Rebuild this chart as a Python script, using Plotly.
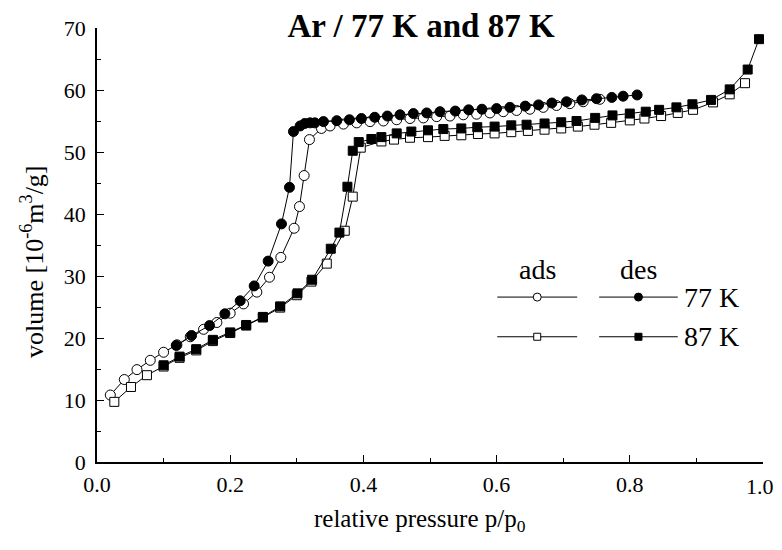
import plotly.graph_objects as go

# ---------------- data ----------------
p_ads77 = [0.02, 0.041, 0.06, 0.08, 0.10, 0.12, 0.14, 0.16, 0.18, 0.20, 0.22, 0.24, 0.259, 0.276,
           0.296, 0.304, 0.311, 0.319, 0.337, 0.35, 0.37, 0.39, 0.41, 0.43, 0.45, 0.47, 0.49, 0.51,
           0.53, 0.55, 0.57, 0.59, 0.61, 0.63, 0.65, 0.67, 0.69, 0.71, 0.73, 0.755]
v_ads77 = [10.8, 13.3, 14.9, 16.4, 17.7, 18.9, 20.2, 21.4, 22.5, 24.0, 25.5, 27.4, 29.8, 33.0,
           37.7, 41.2, 46.2, 52.0, 53.8, 54.2, 54.5, 54.7, 54.9, 55.0, 55.2, 55.4, 55.5, 55.7,
           55.8, 56.0, 56.1, 56.3, 56.5, 56.7, 56.9, 57.2, 57.5, 57.8, 58.1, 58.5]

p_des77 = [0.811, 0.79, 0.773, 0.75, 0.728, 0.705, 0.683, 0.663, 0.643, 0.62, 0.60, 0.578, 0.558,
           0.538, 0.515, 0.495, 0.475, 0.455, 0.436, 0.417, 0.397, 0.379, 0.36, 0.34, 0.327, 0.32,
           0.312, 0.305, 0.295, 0.289, 0.277, 0.257, 0.236, 0.215, 0.192, 0.169, 0.142, 0.119]
v_des77 = [59.2, 59.0, 58.8, 58.6, 58.4, 58.1, 57.9, 57.6, 57.4, 57.2, 57.0, 56.9, 56.8,
           56.6, 56.5, 56.3, 56.2, 56.0, 55.8, 55.6, 55.4, 55.2, 55.05, 54.9, 54.7, 54.7,
           54.6, 54.2, 53.3, 44.3, 38.4, 32.4, 28.4, 26.0, 23.9, 22.0, 20.4, 18.8]

p_ads87 = [0.026, 0.051, 0.075, 0.10, 0.124, 0.149, 0.174, 0.20, 0.224, 0.249, 0.275, 0.30, 0.322,
           0.345, 0.372, 0.384, 0.396, 0.427, 0.446, 0.47, 0.497, 0.522, 0.547, 0.572, 0.597, 0.622,
           0.647, 0.672, 0.697, 0.722, 0.747, 0.772, 0.80, 0.822, 0.847, 0.872, 0.895, 0.925, 0.95,
           0.973]
v_ads87 = [9.7, 12.1, 14.0, 15.4, 16.8, 18.0, 19.5, 20.8, 22.0, 23.3, 24.9, 26.9, 29.1,
           32.0, 37.3, 42.8, 50.7, 51.7, 52.0, 52.3, 52.4, 52.6, 52.7, 52.9, 53.0, 53.2,
           53.4, 53.6, 53.8, 54.1, 54.4, 54.7, 55.1, 55.4, 55.8, 56.3, 56.8, 58.0, 59.3,
           61.1]

p_des87 = [0.994, 0.977, 0.95, 0.922, 0.894, 0.87, 0.844, 0.824, 0.80, 0.774, 0.748, 0.72, 0.697,
           0.672, 0.645, 0.622, 0.597, 0.571, 0.547, 0.52, 0.497, 0.472, 0.45, 0.427, 0.412, 0.393,
           0.384, 0.376, 0.364, 0.351, 0.323, 0.301, 0.275, 0.249, 0.224, 0.20, 0.174, 0.149,
           0.124, 0.10]
v_des87 = [68.2, 63.3, 60.1, 58.4, 57.7, 57.2, 56.8, 56.5, 56.2, 55.9, 55.5, 55.0, 54.8,
           54.6, 54.4, 54.3, 54.1, 54.0, 53.8, 53.7, 53.5, 53.3, 53.0, 52.4, 52.1, 51.6,
           50.2, 44.4, 37.0, 34.4, 29.4, 27.2, 25.1, 23.4, 22.1, 20.9, 19.7, 18.2,
           17.0, 15.6]

x_ticks = [0.0, 0.2, 0.4, 0.6, 0.8, 1.0]
x_ticklabels = ["0.0", "0.2", "0.4", "0.6", "0.8", "1.0"]
y_ticks = [0, 10, 20, 30, 40, 50, 60, 70]

title_text = "<b>Ar / 77 K and 87 K</b>"
x_title = "relative pressure p/p<sub>0</sub>"
y_title = "volume [10<sup>-6</sup>m<sup>3</sup>/g]"
col_headers = ["ads", "des"]
row_labels = ["77 K", "87 K"]

# ---------------- style ----------------
FONT = "Liberation Serif"
OFF = 8  # default page body margin shifts the figure by 8 px
W, H = 782 - OFF, 550 - 2 * OFF
L, T = 97 - OFF, 28 - OFF
R = W - (763 - OFF)
B = H - (462 - OFF)
PW, PH = W - L - R, H - T - B

fig = go.Figure()

def series(x, y, symbol, fill):
    fig.add_trace(go.Scatter(
        x=x, y=y, mode="lines+markers", showlegend=False,
        line=dict(color="black", width=1),
        marker=dict(symbol=symbol, size=10 if symbol == "circle" else 9,
                    color=fill, line=dict(color="black", width=1)),
        cliponaxis=False))

series(p_ads77, v_ads77, "circle", "white")
series(p_ads87, v_ads87, "square", "white")
series(p_des77, v_des77, "circle", "black")
series(p_des87, v_des87, "square", "black")

# ---------------- legend (custom 2x2 grid) ----------------
leg = dict(ads_x=(0.601, 0.721), des_x=(0.754, 0.872), rows_v=(26.6, 20.2),
           head_v=31.1, label_x=0.878)
symbols = ["circle", "square"]
for i, vrow in enumerate(leg["rows_v"]):
    for j, (xs, fill) in enumerate([(leg["ads_x"], "white"), (leg["des_x"], "black")]):
        fig.add_trace(go.Scatter(
            x=[xs[0], xs[1]], y=[vrow, vrow],
            mode="lines", showlegend=False, line=dict(color="black", width=1),
            hoverinfo="skip"))
        fig.add_trace(go.Scatter(
            x=[(xs[0] + xs[1]) / 2], y=[vrow], mode="markers", showlegend=False,
            marker=dict(symbol=symbols[i], size=8 if i == 0 else 7, color=fill,
                        line=dict(color="black", width=1)),
            hoverinfo="skip"))
    fig.add_annotation(x=leg["label_x"], y=vrow, xref="x", yref="y", text=row_labels[i],
                       showarrow=False, xanchor="left", yanchor="middle",
                       font=dict(family=FONT, size=28, color="black"))
for j, xs in enumerate([leg["ads_x"], leg["des_x"]]):
    fig.add_annotation(x=(xs[0] + xs[1]) / 2, y=leg["head_v"], xref="x", yref="y",
                       text=col_headers[j], showarrow=False, xanchor="center",
                       yanchor="middle", font=dict(family=FONT, size=28, color="black"))

# axis titles as annotations (positions in page pixels converted to paper coords)
fig.add_annotation(x=(420 - OFF - L) / PW, y=(H - B - (520 - OFF)) / PH,
                   xref="paper", yref="paper", text=x_title, showarrow=False,
                   font=dict(family=FONT, size=25, color="black"), xanchor="center",
                   yanchor="middle")
fig.add_annotation(x=(32 - OFF - L) / PW, y=(H - B - (262 - OFF)) / PH,
                   xref="paper", yref="paper", text=y_title,
                   showarrow=False, textangle=-90, font=dict(family=FONT, size=26, color="black"),
                   xanchor="center", yanchor="middle")

# the last x tick label sits at the page edge: draw it as an annotation nudged inward
shown_xlabels = x_ticklabels[:-1] + [""]
fig.add_annotation(x=x_ticks[-1], xref="x", y=(H - B - (486 - OFF)) / PH, yref="paper",
                   text=x_ticklabels[-1], showarrow=False, xanchor="center", yanchor="middle",
                   xshift=-3, font=dict(family=FONT, size=22, color="black"))

axis_common = dict(
    showline=True, linecolor="black", linewidth=1.5, mirror=False,
    ticks="inside", ticklen=7, tickwidth=1.2, tickcolor="black",
    showgrid=False, zeroline=False,
    tickfont=dict(family=FONT, size=22, color="black"),
)

fig.update_layout(
    width=W, height=H,
    margin=dict(l=L, r=R, t=T, b=B, autoexpand=False),
    paper_bgcolor="white", plot_bgcolor="white",
    title=dict(text=title_text, x=(421 - OFF) / W, y=1 - (25 - OFF) / H,
               xanchor="center", yanchor="middle",
               font=dict(family=FONT, size=33, color="black")),
    xaxis=dict(range=[0, 1], tickvals=x_ticks, ticktext=shown_xlabels, ticklabelstandoff=2,
               minor=dict(dtick=0.1, ticks="inside", ticklen=4, tickcolor="black", tickwidth=1.2),
               **axis_common),
    yaxis=dict(range=[0, 70], tickvals=y_ticks, ticklabelstandoff=5,
               minor=dict(dtick=5, ticks="inside", ticklen=4, tickcolor="black", tickwidth=1.2),
               **axis_common),
    showlegend=False,
)

fig.write_html("out.html")
